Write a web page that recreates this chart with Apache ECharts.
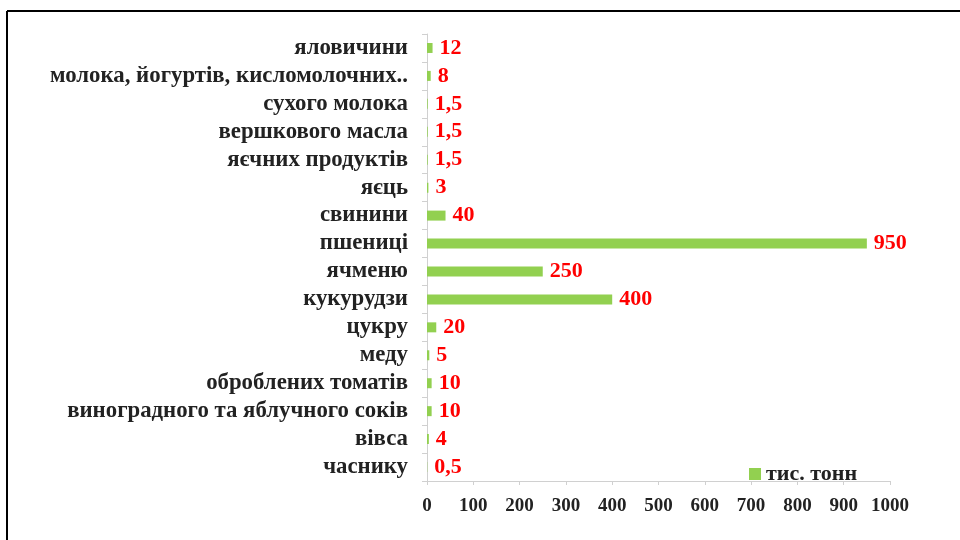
<!DOCTYPE html>
<html>
<head>
<meta charset="utf-8">
<script src="https://cdn.jsdelivr.net/npm/echarts@6/dist/echarts.min.js"></script>
<style>
  html, body { margin: 0; padding: 0; background: #fff; }
  #chart { width: 960px; height: 540px; }
</style>
</head>
<body>
<div id="chart"></div>
<script>
// top to bottom as in the picture
const categories = [
  'яловичини',
  'молока, йогуртів, кисломолочних..',
  'сухого молока',
  'вершкового масла',
  'яєчних продуктів',
  'яєць',
  'свинини',
  'пшениці',
  'ячменю',
  'кукурудзи',
  'цукру',
  'меду',
  'оброблених томатів',
  'виноградного та яблучного соків',
  'вівса',
  'часнику'
];
const values = [12, 8, 1.5, 1.5, 1.5, 3, 40, 950, 250, 400, 20, 5, 10, 10, 4, 0.5];
const xTicks = [0, 100, 200, 300, 400, 500, 600, 700, 800, 900, 1000];
const seriesName = 'тис. тонн';

const serif = '"Liberation Serif", "DejaVu Serif", serif';
const chart = echarts.init(document.getElementById('chart'));

chart.setOption({
  animation: false,
  backgroundColor: '#fff',
  grid: { left: 427, right: 70, top: 34, bottom: 59, containLabel: false },
  legend: {
    data: [seriesName],
    left: 744,
    top: 458,
    itemWidth: 12,
    itemHeight: 12,
    itemGap: 6,
    icon: 'rect',
    textStyle: { fontFamily: serif, fontWeight: 'bold', fontSize: 22, color: '#222' }
  },
  xAxis: {
    type: 'value',
    min: xTicks[0],
    max: xTicks[xTicks.length - 1],
    interval: 100,
    axisLine: { show: true, lineStyle: { color: '#d0d0d0' } },
    axisTick: { show: true, length: 4, lineStyle: { color: '#d0d0d0' } },
    splitLine: { show: false },
    axisLabel: {
      margin: 16,
      fontFamily: serif, fontWeight: 'bold', fontSize: 19, color: '#222',
      formatter: v => String(v)
    }
  },
  yAxis: {
    type: 'category',
    data: categories,
    inverse: true,
    axisLine: { show: true, lineStyle: { color: '#d0d0d0' } },
    axisTick: { show: true, length: 5, lineStyle: { color: '#d0d0d0' } },
    axisLabel: {
      interval: 0,
      margin: 19,
      fontFamily: serif, fontWeight: 'bold', fontSize: 22.8, color: '#222'
    }
  },
  series: [{
    name: seriesName,
    type: 'bar',
    data: values,
    barWidth: 10,
    itemStyle: { color: '#92D050' },
    label: {
      show: true,
      position: 'right',
      distance: 7,
      fontFamily: serif, fontWeight: 'bold', fontSize: 22, color: '#ff0000',
      formatter: p => String(p.value).replace('.', ',')
    }
  }],
  graphic: [
    { type: 'line', shape: { x1: 7, y1: 11, x2: 960, y2: 11 }, style: { stroke: '#000', lineWidth: 2 } },
    { type: 'line', shape: { x1: 7, y1: 11, x2: 7, y2: 540 }, style: { stroke: '#000', lineWidth: 2 } }
  ]
});
</script>
</body>
</html>
